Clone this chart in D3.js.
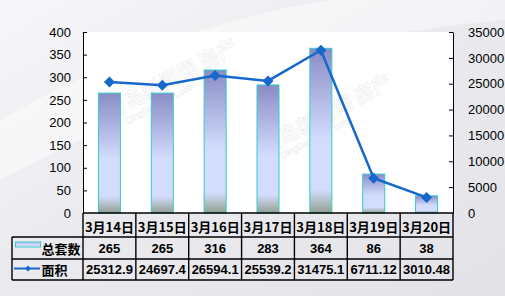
<!DOCTYPE html>
<html>
<head>
<meta charset="utf-8">
<script src="https://cdn.jsdelivr.net/npm/d3@7"></script>
<style>
  html, body { margin: 0; padding: 0; background: #fff; }
  svg { display: block; font-family: "Liberation Sans", Arial, "Noto Sans CJK SC", sans-serif; }
</style>
</head>
<body>
<svg width="505" height="296"></svg>
<script>
// data
var dates = ['3月14日','3月15日','3月16日','3月17日','3月18日','3月19日','3月20日'];
var totalSets = [265, 265, 316, 283, 364, 86, 38];
var areas = [25312.9, 24697.4, 26594.1, 25539.2, 31475.1, 6711.12, 3010.48];
var areaLabels = ['25312.9','24697.4','26594.1','25539.2','31475.1','6711.12','3010.48'];
var leftTicks = [0, 50, 100, 150, 200, 250, 300, 350, 400];
var rightTicks = [0, 5000, 10000, 15000, 20000, 25000, 30000, 35000];
var seriesNames = ['总套数', '面积'];

var svg = d3.select("svg");
var W = 505, H = 296;
var plot = {left: 83, right: 453, top: 32, bottom: 213};
var tableLeft = 12;
var rowY = [213, 237, 259, 280];
var lineColor = "#1668cc";
var cjk = "'Noto Sans CJK SC', 'Liberation Sans', sans-serif";

var defs = svg.append("defs");
var bg = defs.append("linearGradient").attr("id", "bg")
    .attr("x1", 0).attr("y1", 0).attr("x2", 1).attr("y2", 1);
bg.append("stop").attr("offset", "0%").attr("stop-color", "#f7f7f9");
bg.append("stop").attr("offset", "45%").attr("stop-color", "#ebebef");
bg.append("stop").attr("offset", "100%").attr("stop-color", "#e2e2e8");

var barGrad = defs.append("linearGradient").attr("id", "barGrad")
    .attr("x1", 0).attr("y1", 0).attr("x2", 0).attr("y2", 1);
barGrad.append("stop").attr("offset", "0%").attr("stop-color", "#8a8cc5");
barGrad.append("stop").attr("offset", "55%").attr("stop-color", "#d2dcfd");
barGrad.append("stop").attr("offset", "86%").attr("stop-color", "#d2dcfd");
barGrad.append("stop").attr("offset", "100%").attr("stop-color", "#929f8e");

var keyGrad = defs.append("linearGradient").attr("id", "keyGrad")
    .attr("x1", 0).attr("y1", 0).attr("x2", 0).attr("y2", 1);
keyGrad.append("stop").attr("offset", "0%").attr("stop-color", "#b8bcec");
keyGrad.append("stop").attr("offset", "100%").attr("stop-color", "#e0e6ff");

svg.append("rect").attr("width", W).attr("height", H).attr("fill", "url(#bg)");

// soft white swoosh
svg.append("path")
    .attr("d", "M0,120 C90,70 200,20 330,0 L505,0 L505,20 C380,30 230,60 0,180 Z")
    .attr("fill", "#ffffff").attr("opacity", 0.45);

// plot background
svg.append("rect")
    .attr("x", plot.left).attr("y", plot.top)
    .attr("width", plot.right - plot.left).attr("height", plot.bottom - plot.top)
    .attr("fill", "#ffffff");

var x = d3.scaleBand().domain(dates).range([plot.left, plot.right]).padding(0);
var yL = d3.scaleLinear().domain([0, 400]).range([plot.bottom, plot.top]);
var yR = d3.scaleLinear().domain([0, 35000]).range([plot.bottom, plot.top]);

// watermarks (faint)
var marks = [[175, 85], [330, 120]];
var wm = svg.append("g").attr("pointer-events", "none");
marks.forEach(function(m) {
    var g = wm.append("g").attr("transform", "translate(" + m[0] + "," + m[1] + ") rotate(-28)");
    g.append("text").attr("text-anchor", "middle")
        .style("font-family", cjk).style("font-size", "20px").style("font-weight", "bold")
        .attr("fill", "none")
        .attr("stroke", "#c0c0c8").attr("stroke-opacity", 0.28).attr("stroke-width", 0.8)
        .text("青岛新闻网 房产");
    g.append("text").attr("text-anchor", "middle").attr("y", 12).attr("x", -22)
        .style("font-size", "9px").style("font-style", "italic")
        .attr("fill", "none")
        .attr("stroke", "#c0c0c8").attr("stroke-opacity", 0.25).attr("stroke-width", 0.6)
        .text("QingDaoNews.com");
});

// bars
var barW = 22;
svg.append("g").selectAll("rect")
    .data(totalSets)
    .enter().append("rect")
    .attr("x", function(d, i) { return x(dates[i]) + x.bandwidth() / 2 - barW / 2; })
    .attr("y", function(d) { return yL(d); })
    .attr("width", barW)
    .attr("height", function(d) { return yL(0) - yL(d); })
    .attr("fill", "url(#barGrad)")
    .attr("stroke", "#33cccc").attr("stroke-width", 1);

// axes
var axisL = svg.append("g").attr("transform", "translate(" + plot.left + ",0)")
    .call(d3.axisLeft(yL).tickValues(leftTicks).tickFormat(d3.format("d")).tickSize(-4).tickSizeOuter(0).tickPadding(12));
var axisR = svg.append("g").attr("transform", "translate(" + plot.right + ",0)")
    .call(d3.axisRight(yR).tickValues(rightTicks).tickFormat(d3.format("d")).tickSize(-4).tickSizeOuter(0).tickPadding(15));
[axisL, axisR].forEach(function(a) {
    a.select(".domain").attr("stroke", "#000");
    a.selectAll(".tick line").attr("stroke", "#000");
    a.selectAll(".tick text").style("font-size", "13px").style("font-family", "'Liberation Sans', Arial, sans-serif").attr("fill", "#000");
});
axisL.selectAll(".tick").filter(function(d) { return d === 0; }).select("line").remove();
axisR.selectAll(".tick").filter(function(d) { return d === 0; }).select("line").remove();

// line series
var line = d3.line()
    .x(function(d, i) { return x(dates[i]) + x.bandwidth() / 2; })
    .y(function(d) { return yR(d); });
svg.append("path").datum(areas)
    .attr("d", line)
    .attr("fill", "none").attr("stroke", lineColor).attr("stroke-width", 2.5);

function diamond(r) { return "M0," + (-r) + "L" + r + ",0L0," + r + "L" + (-r) + ",0Z"; }
svg.append("g").selectAll("path")
    .data(areas)
    .enter().append("path")
    .attr("transform", function(d, i) { return "translate(" + (x(dates[i]) + x.bandwidth() / 2) + "," + yR(d) + ")"; })
    .attr("d", diamond(5.5))
    .attr("fill", lineColor);

// data table
var table = svg.append("g");
var cellText = function(sel) {
    return sel.attr("text-anchor", "middle").attr("dominant-baseline", "central")
        .style("font-size", "13px").style("font-weight", "bold").attr("fill", "#000");
};
table.selectAll("text.cat").data(dates).enter().append("text").attr("class", "cat")
    .attr("x", function(d) { return x(d) + x.bandwidth() / 2; })
    .attr("y", (rowY[0] + rowY[1]) / 2 + 1)
    .call(cellText).style("font-family", cjk).text(function(d) { return d; });
table.selectAll("text.tot").data(totalSets).enter().append("text").attr("class", "tot")
    .attr("x", function(d, i) { return x(dates[i]) + x.bandwidth() / 2; })
    .attr("y", (rowY[1] + rowY[2]) / 2)
    .call(cellText).text(function(d) { return d; });
table.selectAll("text.area").data(areaLabels).enter().append("text").attr("class", "area")
    .attr("x", function(d, i) { return x(dates[i]) + x.bandwidth() / 2; })
    .attr("y", (rowY[2] + rowY[3]) / 2)
    .call(cellText).text(function(d) { return d; });

// grid lines of the table
var bw = 1.4;
table.append("line").attr("x1", plot.left).attr("x2", plot.right).attr("y1", rowY[0]).attr("y2", rowY[0]);
[1, 2, 3].forEach(function(r) {
    table.append("line").attr("x1", tableLeft).attr("x2", plot.right).attr("y1", rowY[r]).attr("y2", rowY[r]);
});
table.append("line").attr("x1", tableLeft).attr("x2", tableLeft).attr("y1", rowY[1]).attr("y2", rowY[3]);
dates.forEach(function(d) {
    table.append("line").attr("x1", x(d)).attr("x2", x(d)).attr("y1", rowY[0]).attr("y2", rowY[3]);
});
table.append("line").attr("x1", plot.right).attr("x2", plot.right).attr("y1", rowY[0]).attr("y2", rowY[3]);
table.selectAll("line").attr("stroke", "#000").attr("stroke-width", bw);

// legend keys in the table
var rowMid1 = (rowY[1] + rowY[2]) / 2, rowMid2 = (rowY[2] + rowY[3]) / 2;
table.append("rect").attr("x", 15.5).attr("y", rowMid1 - 6).attr("width", 25).attr("height", 5)
    .attr("fill", "url(#keyGrad)").attr("stroke", "#33cccc").attr("stroke-width", 1);
table.append("line").attr("x1", 14).attr("x2", 40).attr("y1", rowMid2 - 1).attr("y2", rowMid2 - 1)
    .attr("stroke", lineColor).attr("stroke-width", 2);
table.append("path").attr("transform", "translate(28," + (rowMid2 - 1) + ")").attr("d", diamond(3)).attr("fill", lineColor);
table.selectAll("text.name").data(seriesNames).enter().append("text").attr("class", "name")
    .attr("x", 41.5)
    .attr("y", function(d, i) { return i === 0 ? rowMid1 : rowMid2; })
    .attr("dominant-baseline", "central")
    .style("font-family", cjk).style("font-size", "13px").style("font-weight", "bold").attr("fill", "#000")
    .text(function(d) { return d; });
</script>
</body>
</html>
